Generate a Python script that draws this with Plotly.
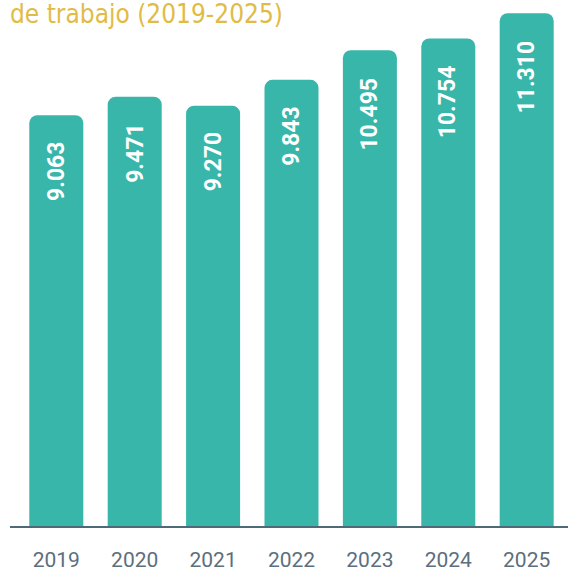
import plotly.graph_objects as go

years = ["2019", "2020", "2021", "2022", "2023", "2024", "2025"]
values = [9063, 9471, 9270, 9843, 10495, 10754, 11310]
value_labels = ["9.063", "9.471", "9.270", "9.843", "10.495", "10.754", "11.310"]
title_text = "de trabajo (2019-2025)"

BAR = "#38b6aa"
GOLD = "#e1bc45"
AXIS = "#4e6a78"
TICK = "#5b6f7e"

fig = go.Figure()
fig.add_trace(go.Bar(
    x=years, y=values,
    marker=dict(color=BAR, line=dict(width=0), cornerradius=8),
    hoverinfo="skip",
))

for i, (v, lab) in enumerate(zip(values, value_labels)):
    fig.add_annotation(
        x=i, y=v, xref="x", yref="y",
        text="<b>%s</b>" % lab, textangle=-90,
        showarrow=False, yanchor="top", xanchor="center",
        yshift=-25,
        font=dict(family="Roboto, DejaVu Sans, sans-serif", size=23, color="white"),
    )

fig.add_annotation(
    x=0, y=1, xref="paper", yref="paper",
    xanchor="left", yanchor="top", xshift=-2, yshift=3,
    text=title_text, showarrow=False,
    font=dict(family="DejaVu Sans Condensed, DejaVu Sans, sans-serif", size=26, color=GOLD),
)

fig.update_layout(
    width=568, height=571,
    margin=dict(l=10, r=0, t=0, b=45),
    paper_bgcolor="white", plot_bgcolor="white",
    bargap=0.311,
    showlegend=False,
    xaxis=dict(
        type="category", range=[-0.5906, 6.527],
        showline=True, linecolor=AXIS, linewidth=2,
        showgrid=False, zeroline=False, ticks="",
        automargin=False,
        ticklabelstandoff=14,
        tickfont=dict(family="Roboto, DejaVu Sans, sans-serif", size=21, color=TICK),
    ),
    yaxis=dict(
        range=[0, 11603], visible=False, showgrid=False, zeroline=False,
        automargin=False,
    ),
)

fig.write_html("out.html", config={"displayModeBar": False},
               post_script="document.body.style.margin='0';")
